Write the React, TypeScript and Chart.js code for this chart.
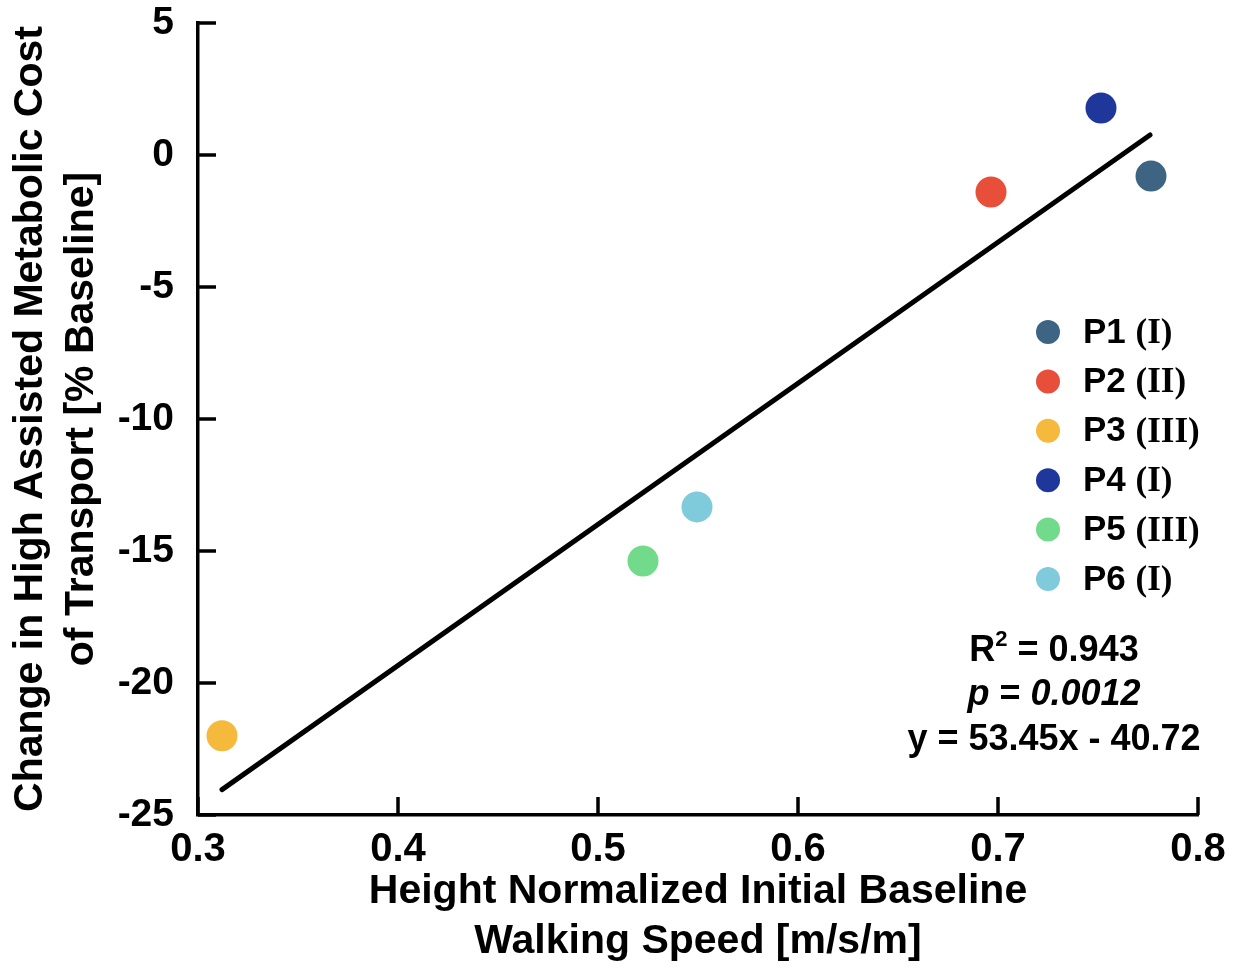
import React, { useEffect, useRef } from 'react';
import { Chart, registerables } from 'chart.js';
Chart.register(...registerables);

const participants = ['P1', 'P2', 'P3', 'P4', 'P5', 'P6'];
const groups = ['I', 'II', 'III', 'I', 'III', 'I'];
const speedX = [0.7765, 0.6965, 0.312, 0.7515, 0.5225, 0.5495];
const costChange = [-0.8, -1.4, -22.0, 1.78, -15.38, -13.33];
const colors = ['#3e6483', '#e84f3b', '#f5b93b', '#1f379b', '#72db8b', '#7fcbdc'];
const fitX = [0.312, 0.776];
const fitY = [-24.04, 0.76];
const xTicks = [0.3, 0.4, 0.5, 0.6, 0.7, 0.8];
const yTicks = [5, 0, -5, -10, -15, -20, -25];
const xTitle = ['Height Normalized Initial Baseline', 'Walking Speed [m/s/m]'];
const yTitle = ['Change in High Assisted Metabolic Cost', 'of Transport [% Baseline]'];
const statR2 = '0.943';
const statP = '0.0012';
const statEq = 'y = 53.45x - 40.72';

const SANS = '"Liberation Sans", Arial, sans-serif';
const SERIF = '"Liberation Serif", "Times New Roman", serif';

const decorPlugin = {
  id: 'decor',
  afterDraw(chart: any) {
    const ctx = chart.ctx as CanvasRenderingContext2D;
    const xs = chart.scales.x;
    const ys = chart.scales.y;
    const area = chart.chartArea;
    ctx.save();
    // inward ticks
    ctx.strokeStyle = '#000';
    ctx.lineWidth = 3.5;
    ctx.lineCap = 'butt';
    const tl = 18;
    yTicks.forEach((v) => {
      const py = ys.getPixelForValue(v);
      ctx.beginPath();
      ctx.moveTo(area.left, py);
      ctx.lineTo(area.left + tl, py);
      ctx.stroke();
    });
    xTicks.forEach((v) => {
      const px = xs.getPixelForValue(v);
      ctx.beginPath();
      ctx.moveTo(px, area.bottom);
      ctx.lineTo(px, area.bottom - tl);
      ctx.stroke();
    });

    // axis titles
    ctx.fillStyle = '#000';
    ctx.textAlign = 'center';
    ctx.textBaseline = 'middle';
    ctx.font = `bold 41px ${SANS}`;
    const cx = (area.left + area.right) / 2;
    ctx.fillText(xTitle[0], cx, 892);
    ctx.fillText(xTitle[1], cx, 942);
    const cy = (area.top + area.bottom) / 2;
    [31, 82].forEach((x, i) => {
      ctx.save();
      ctx.translate(x, cy);
      ctx.rotate(-Math.PI / 2);
      ctx.fillText(yTitle[i], 0, 0);
      ctx.restore();
    });

    // legend
    const legX = 1048;
    const legY0 = 332;
    const legDy = 49.4;
    participants.forEach((p, i) => {
      const y = legY0 + i * legDy;
      ctx.beginPath();
      ctx.fillStyle = colors[i];
      ctx.arc(legX, y, 12, 0, Math.PI * 2);
      ctx.fill();
      ctx.fillStyle = '#000';
      ctx.textAlign = 'left';
      ctx.textBaseline = 'middle';
      ctx.font = `bold 35px ${SANS}`;
      const t1 = p + ' ';
      ctx.fillText(t1, 1083, y + 1);
      const w1 = ctx.measureText(t1).width;
      ctx.font = `bold 35px ${SERIF}`;
      ctx.fillText('(' + groups[i] + ')', 1083 + w1, y + 2);
    });

    // stats
    const sx = 1054;
    const F = 36;
    ctx.textBaseline = 'middle';
    ctx.textAlign = 'left';
    {
      const y = 651;
      ctx.font = `bold ${F}px ${SANS}`;
      const wR = ctx.measureText('R').width;
      ctx.font = `bold 22px ${SANS}`;
      const w2 = ctx.measureText('2').width;
      ctx.font = `bold ${F}px ${SANS}`;
      const rest = ' = ' + statR2;
      const wRest = ctx.measureText(rest).width;
      let x = sx - (wR + w2 + wRest) / 2;
      ctx.fillText('R', x, y);
      x += wR;
      ctx.font = `bold 22px ${SANS}`;
      ctx.fillText('2', x, y - 11);
      x += w2;
      ctx.font = `bold ${F}px ${SANS}`;
      ctx.fillText(rest, x, y);
    }
    {
      const y = 695;
      ctx.font = `italic bold ${F}px ${SANS}`;
      const wp = ctx.measureText('p').width;
      const wv = ctx.measureText(statP).width;
      ctx.font = `bold ${F}px ${SANS}`;
      const we = ctx.measureText(' = ').width;
      let x = sx - (wp + we + wv) / 2;
      ctx.font = `italic bold ${F}px ${SANS}`;
      ctx.fillText('p', x, y);
      x += wp;
      ctx.font = `bold ${F}px ${SANS}`;
      ctx.fillText(' = ', x, y);
      x += we;
      ctx.font = `italic bold ${F}px ${SANS}`;
      ctx.fillText(statP, x, y);
    }
    ctx.font = `bold ${F}px ${SANS}`;
    ctx.textAlign = 'center';
    ctx.fillText(statEq, sx, 740);
    ctx.restore();
  },
};

export default function App() {
  const ref = useRef<HTMLCanvasElement | null>(null);
  useEffect(() => {
    if (!ref.current) return;
    const datasets: any[] = participants.map((p, i) => ({
      type: 'scatter',
      label: p + ' (' + groups[i] + ')',
      data: [{ x: speedX[i], y: costChange[i] }],
      backgroundColor: colors[i],
      borderColor: colors[i],
      pointRadius: 15.5,
      pointBorderWidth: 0,
      order: 1,
    }));
    datasets.push({
      type: 'line',
      label: 'fit',
      data: fitX.map((x, i) => ({ x, y: fitY[i] })),
      borderColor: '#000',
      borderWidth: 5,
      borderCapStyle: 'round',
      pointRadius: 0,
      fill: false,
      order: 2,
    });
    const chart = new Chart(ref.current, {
      type: 'scatter',
      data: { datasets },
      options: {
        responsive: false,
        animation: false,
        devicePixelRatio: 1,
        layout: { padding: { top: 23, right: 48, bottom: 0, left: 0 } },
        plugins: { legend: { display: false }, tooltip: { enabled: false } },
        scales: {
          x: {
            type: 'linear',
            min: 0.3,
            max: 0.8,
            afterBuildTicks: (s: any) => { s.ticks = xTicks.map((v) => ({ value: v })); },
            afterFit: (s: any) => { s.height = 156; s.paddingLeft = 0; s.paddingRight = 0; },
            grid: { display: false, drawTicks: false },
            border: { display: true, color: '#000', width: 3.5 },
            ticks: {
              color: '#000',
              padding: 11,
              maxRotation: 0,
              font: { family: SANS, weight: 'bold', size: 40 },
              callback: (v: any) => Number(v).toFixed(1),
            },
          },
          y: {
            type: 'linear',
            min: -25,
            max: 5,
            afterBuildTicks: (s: any) => { s.ticks = yTicks.slice().reverse().map((v) => ({ value: v })); },
            afterFit: (s: any) => { s.width = 198; s.paddingTop = 0; s.paddingBottom = 0; },
            grid: { display: false, drawTicks: false },
            border: { display: true, color: '#000', width: 3.5 },
            ticks: {
              color: '#000',
              padding: 24,
              font: { family: SANS, weight: 'bold', size: 39 },
              callback: (v: any) => String(v),
            },
          },
        },
      } as any,
      plugins: [decorPlugin],
    });
    return () => chart.destroy();
  }, []);
  return (
    <div style={{ position: 'fixed', left: 0, top: 0, width: 1246, height: 971, background: '#fff' }}>
      <canvas ref={ref} width={1246} height={971} style={{ display: 'block' }} />
    </div>
  );
}
